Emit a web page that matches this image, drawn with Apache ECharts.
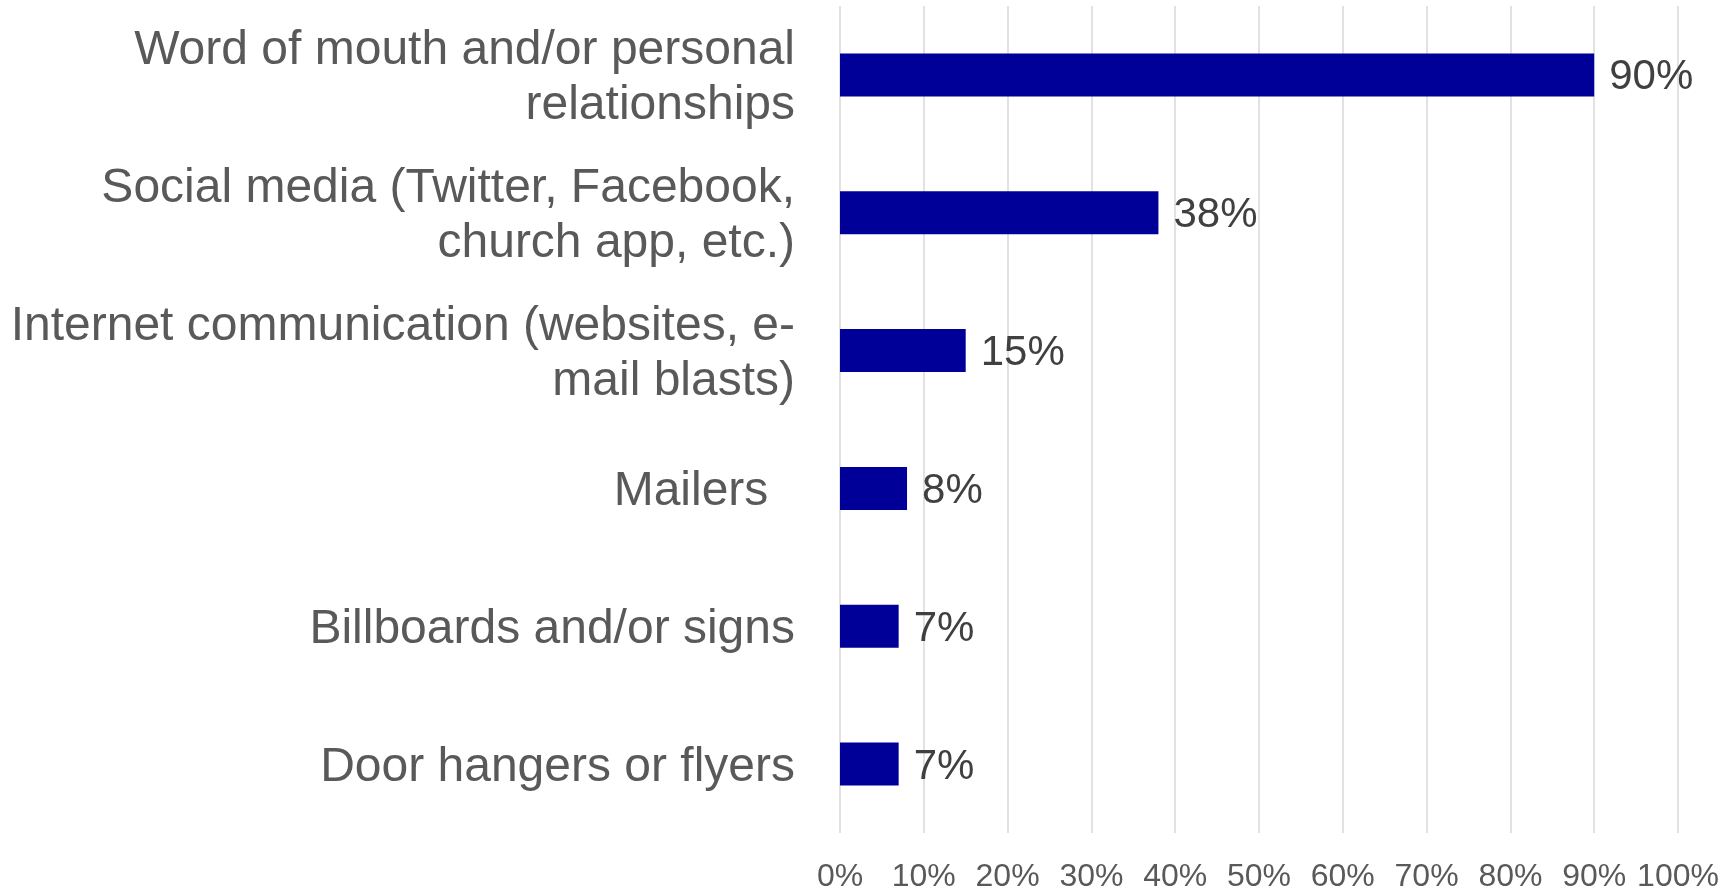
<!DOCTYPE html>
<html>
<head>
<meta charset="utf-8">
<script src="https://cdn.jsdelivr.net/npm/echarts@6/dist/echarts.min.js"></script>
<style>
  html,body{margin:0;padding:0;background:#fff;}
  #chart{width:1731px;height:893px;}
</style>
</head>
<body>
<div id="chart"></div>
<script>
const categories=[
  'Word of mouth and/or personal\nrelationships',
  'Social media (Twitter, Facebook,\nchurch app, etc.)',
  'Internet communication (websites, e-\nmail blasts)',
  'Mailers  ',
  'Billboards and/or signs',
  'Door hangers or flyers'
]
const values=[90,38,15,8,7,7]
const xTicks=[0,10,20,30,40,50,60,70,80,90,100]

const myChart=echarts.init(document.querySelector('#chart'))
const option={
  animation:false,
  textStyle:{fontFamily:'Liberation Sans, Arial, sans-serif'},
  grid:{left:840,right:53,top:6,bottom:52,containLabel:false},
  xAxis:{
    type:'value',
    min:xTicks[0],
    max:xTicks[xTicks.length-1],
    interval:10,
    axisLine:{show:false},
    axisTick:{show:false},
    splitLine:{show:true,lineStyle:{color:'#d9d9d9',width:1.5}},
    axisLabel:{
      formatter:'{value}%',
      color:'#595959',
      fontSize:32,
      margin:28
    }
  },
  yAxis:{
    type:'category',
    inverse:true,
    data:categories,
    axisLine:{show:false},
    axisTick:{show:false},
    axisLabel:{
      align:'right',
      margin:45,
      // nudge text down a few px, 55px line spacing
      formatter:v=>v.split('\n').map(l=>'{c|'+l+'}').join('\n'),
      rich:{
        c:{color:'#595959',fontSize:48,lineHeight:55,padding:[7,0,0,0],align:'right'}
      }
    }
  },
  series:[
    {
      type:'bar',
      data:values,
      barWidth:43,
      itemStyle:{color:'#000099'},
      label:{
        show:true,
        position:'right',
        distance:15,
        formatter:'{v|{c}%}',
        rich:{
          v:{color:'#404040',fontSize:42,lineHeight:42,padding:[6,0,0,0]}
        }
      }
    }
  ]
}
myChart.setOption(option)
</script>
</body>
</html>
